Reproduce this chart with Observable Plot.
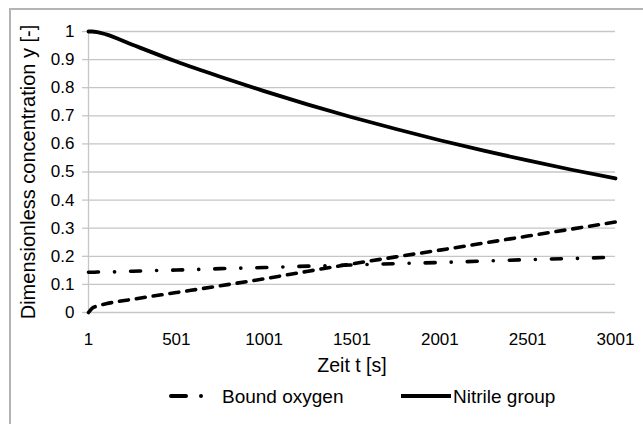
<!DOCTYPE html>
<html>
<head>
<meta charset="utf-8">
<script src="https://cdn.jsdelivr.net/npm/d3@7"></script>
<script src="https://cdn.jsdelivr.net/npm/@observablehq/plot@0.6"></script>
<style>
  html, body { margin: 0; padding: 0; background: #fff; }
  #wrap { position: relative; width: 643px; height: 424px; overflow: hidden; font-family: "Liberation Sans", Arial, sans-serif; color: #000; }
  #frame { position: absolute; left: 9px; top: 8px; width: 700px; height: 500px; border-top: 2px solid #b4b4b4; border-left: 2px solid #b4b4b4; }
  #chart { position: absolute; left: 0; top: 0; }
  .ttl { position: absolute; white-space: nowrap; font-size: 19.5px; line-height: 1; }
  #ytitle { left: 28px; top: 172px; transform: translate(-50%, -50%) rotate(-90deg); font-size: 20px; }
  #xtitle { left: 352px; top: 366px; transform: translate(-50%, -50%); }
  .leg { position: absolute; top: 396px; transform: translateY(-50%); font-size: 19px; line-height: 1; white-space: nowrap; }
  .legsym { position: absolute; top: 386px; }
</style>
</head>
<body>
<div id="wrap">
  <div id="frame"></div>
  <div id="chart"></div>
  <div id="ytitle" class="ttl"></div>
  <div id="xtitle" class="ttl"></div>
  <svg class="legsym" style="left:160px" width="50" height="20"><line x1="11" y1="10" x2="26" y2="10" stroke="#000" stroke-width="4" stroke-linecap="round"/><circle cx="41" cy="10" r="2" fill="#000"/></svg>
  <div id="leg1" class="leg" style="left:222px"></div>
  <svg class="legsym" style="left:396px" width="58" height="20"><line x1="5" y1="10" x2="55" y2="10" stroke="#000" stroke-width="4"/></svg>
  <div id="leg2" class="leg" style="left:453px"></div>
</div>
<script>
// ---- data ----
const times      = [1, 21, 51, 101, 251, 501, 751, 1001, 1251, 1501, 1751, 2001, 2251, 2501, 2751, 3001];
const nitrile    = [1.000, 1.000, 0.998, 0.990, 0.953, 0.893, 0.839, 0.788, 0.740, 0.695, 0.653, 0.613, 0.576, 0.541, 0.508, 0.477];
const boundOxy   = [0.143, 0.143, 0.144, 0.144, 0.147, 0.151, 0.156, 0.160, 0.165, 0.169, 0.174, 0.178, 0.183, 0.188, 0.192, 0.197];
const thirdCurve = [0.000, 0.015, 0.023, 0.031, 0.047, 0.071, 0.095, 0.120, 0.147, 0.173, 0.198, 0.222, 0.247, 0.272, 0.297, 0.322];
const xTicks = [1, 501, 1001, 1501, 2001, 2501, 3001];
const yTicks = [0, 0.1, 0.2, 0.3, 0.4, 0.5, 0.6, 0.7, 0.8, 0.9, 1];
const seriesNames = ["Bound oxygen", "Nitrile group"];
const xTitle = "Zeit t [s]";
const yTitle = "Dimensionless concentration y [-]";

document.getElementById("ytitle").textContent = yTitle;
document.getElementById("xtitle").textContent = xTitle;
document.getElementById("leg1").textContent = seriesNames[0];
document.getElementById("leg2").textContent = seriesNames[1];

const rows = (vals) => times.map((t, i) => ({t, v: vals[i]}));
const grid = "#c6c6c6";

const chart = Plot.plot({
  width: 643,
  height: 380,
  marginLeft: 88,
  marginRight: 28,
  marginTop: 31,
  marginBottom: 68,
  style: { fontFamily: "'Liberation Sans', Arial, sans-serif", fontSize: "17px", background: "transparent", color: "#000" },
  x: { type: "linear", domain: [1, 3001] },
  y: { domain: [0, 1] },
  marks: [
    Plot.gridY(yTicks, { stroke: grid, strokeOpacity: 1, strokeWidth: 1.3 }),
    Plot.axisY(yTicks, { tickSize: 6, tickPadding: 8, stroke: grid, strokeWidth: 1.3, fill: "#000", fontSize: 17, label: null,
      tickFormat: d => String(+d.toFixed(1)) }),
    Plot.ruleX([1], { stroke: grid, strokeWidth: 1.3 }),
    Plot.axisX(xTicks, { tickSize: 0, tickPadding: 20, fill: "#000", fontSize: 17, label: null, tickFormat: d => String(d) }),
    Plot.line(rows(thirdCurve), { x: "t", y: "v", stroke: "#000", strokeWidth: 3.6, curve: "monotone-x",
      strokeDasharray: "9,8", strokeLinecap: "round" }),
    Plot.line(rows(boundOxy), { x: "t", y: "v", stroke: "#000", strokeWidth: 3.6, curve: "monotone-x",
      strokeDasharray: "10,16,0.1,16", strokeLinecap: "round" }),
    Plot.line(rows(nitrile), { x: "t", y: "v", stroke: "#000", strokeWidth: 3.8, curve: "monotone-x", strokeLinecap: "round" })
  ]
});
document.getElementById("chart").appendChild(chart);
</script>
</body>
</html>
